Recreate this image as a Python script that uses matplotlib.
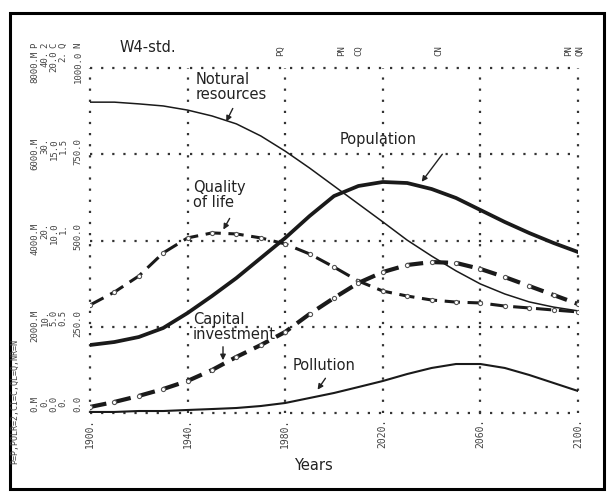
import numpy as np
import matplotlib
matplotlib.use("Agg")
import matplotlib.pyplot as plt

W, H = 613, 493

# --- data (each series in its own scale units) ---
years = [1900, 1910, 1920, 1930, 1940, 1950, 1960, 1970, 1980, 1990, 2000,
         2010, 2020, 2030, 2040, 2050, 2060, 2070, 2080, 2090, 2100]

population = [1577, 1646, 1762, 1971, 2319, 2713, 3130, 3594, 4058, 4568, 5031,
              5264, 5357, 5333, 5194, 4986, 4707, 4429, 4174, 3942, 3733]          # P, 0..8000 M
natural_resources = [901, 901, 896, 890, 878, 861, 838, 803, 759, 710, 658,
                     606, 554, 501, 455, 412, 374, 345, 322, 307, 296]            # N, 0..1000
quality_of_life = [0.626, 0.701, 0.794, 0.928, 1.015, 1.044, 1.038, 1.015, 0.980, 0.922, 0.846,
                   0.765, 0.707, 0.678, 0.655, 0.643, 0.638, 0.620, 0.609, 0.597, 0.586]  # Q, 0..2
capital_investment = [0.35, 0.64, 0.99, 1.39, 1.86, 2.49, 3.25, 3.94, 4.70, 5.74, 6.67,
                      7.54, 8.17, 8.58, 8.75, 8.70, 8.35, 7.88, 7.36, 6.84, 6.32]  # C, 0..20
pollution = [0.12, 0.12, 0.23, 0.23, 0.35, 0.46, 0.58, 0.81, 1.16, 1.74, 2.32,
             3.01, 3.71, 4.52, 5.22, 5.68, 5.68, 5.22, 4.41, 3.48, 2.55]          # POLR, 0..40

# scale columns printed on the left
scale_letters = ["P", "2", "C", "Q", "N"]
scale_labels = [
    ["0.M", "2000.M", "4000.M", "6000.M", "8000.M"],
    ["0.", "10.", "20.", "30.", "40."],
    ["0.0", "5.0", "10.0", "15.0", "20.0"],
    ["0.", "0.5", "1.", "1.5", "2."],
    ["0.0", "250.0", "500.0", "750.0", "1000.0"],
]
scale_max = {"P": 8000, "2": 40, "C": 20, "Q": 2, "N": 1000}

year_ticks = [1900, 1940, 1980, 2020, 2060, 2100]
crossings = [("PQ", 1978), ("PN", 2003), ("CQ", 2010), ("CN", 2043), ("PN", 2096), ("QN", 2101)]

# --- figure in pixel units ---
fig = plt.figure(figsize=(W / 100, H / 100), dpi=100)
x0, x1, y0, y1 = 90, 578, 413, 68
ax = fig.add_axes([x0 / W, 1 - y0 / H, (x1 - x0) / W, (y0 - y1) / H])
ax.set_xlim(1900, 2100)
ax.set_ylim(0, 1)
ax.axis("off")


def px(x, y):
    return x / W, 1 - y / H


ink = "#1a1a1a"
grid_kw = dict(color="#333333", lw=1.6, linestyle=(0, (1.0, 4.0)), zorder=1, clip_on=False)
for yr in year_ticks:
    ax.plot([yr, yr], [0, 1], **grid_kw)
for f in [0, 0.25, 0.5, 0.75, 1.0]:
    ax.plot([1900, 2100], [f, f], **grid_kw)

yrs = np.array(years)
ax.plot(yrs, np.array(natural_resources) / scale_max["N"], color=ink, lw=1.1, zorder=3)
ax.plot(yrs, np.array(population) / scale_max["P"], color=ink, lw=2.7, zorder=4)
ax.plot(yrs, np.array(pollution) / scale_max["2"], color=ink, lw=1.5, zorder=3)
ax.plot(yrs, np.array(quality_of_life) / scale_max["Q"], color=ink, lw=2.2,
        linestyle=(0, (5, 2.5)), marker="o", ms=3, mfc="white", mec="#555555", mew=0.8, zorder=3)
ax.plot(yrs, np.array(capital_investment) / scale_max["C"], color=ink, lw=3.0,
        linestyle=(0, (4, 2)), marker="o", ms=3, mfc="white", mec="#555555", mew=0.8, zorder=3)

# curve names with arrows
lab_kw = dict(fontsize=10.5, color="#222222", family="DejaVu Sans")
fig.text(*px(196, 72), "Notural\nresources", va="top", ha="left", linespacing=1.0, **lab_kw)
fig.text(*px(340, 140), "Population", va="center", ha="left", **lab_kw)
fig.text(*px(193, 180), "Quality\nof life", va="top", ha="left", linespacing=1.0, **lab_kw)
fig.text(*px(193, 312), "Capital\ninvestment", va="top", ha="left", linespacing=1.0, **lab_kw)
fig.text(*px(293, 366), "Pollution", va="center", ha="left", **lab_kw)

arrow_kw = dict(arrowstyle="-|>", color="#222222", lw=1.0, mutation_scale=8)
for (xa, ya), (xb, yb) in [((234, 106), (225, 124)), ((444, 152), (420, 184)),
                           ((231, 216), (222, 232)), ((223, 344), (223, 363)),
                           ((327, 376), (316, 392))]:
    fig.add_artist(matplotlib.patches.FancyArrowPatch(px(xa, ya), px(xb, yb),
                   transform=fig.transFigure, **arrow_kw))

# title and axis name
fig.text(*px(120, 47), "W4-std.", fontsize=10.5, color="#222222", va="center", ha="left")
fig.text(*px(313, 465), "Years", fontsize=10.5, color="#222222", va="center", ha="center")

# printer-style scale labels on the left (right-justified: text ends above each gridline)
small = dict(family="DejaVu Sans Mono", color="#444444", rotation=90)
col_x = [35, 45, 54, 63, 78]
grid_y = [413, 327, 240, 155, 68]
for cx, letter, labels in zip(col_x, scale_letters, scale_labels):
    for gy, s in zip(grid_y, labels):
        fig.text(*px(cx, gy - 17), s, ha="center", va="top", fontsize=6.5, **small)
    fig.text(*px(cx, 48), letter, ha="center", va="bottom", fontsize=6.5, **small)

# year labels
for yr in year_ticks:
    xp = x0 + (yr - 1900) / 200 * (x1 - x0)
    fig.text(*px(xp, 419), f"{yr}.", ha="center", va="top", fontsize=7, **small)

# crossing marks along the top
for s, yr in crossings:
    xp = x0 + (yr - 1900) / 200 * (x1 - x0)
    fig.text(*px(xp, 56), s, ha="center", va="bottom", fontsize=6.5, **small)

fig.text(*px(15, 402), "P=P,POLR=2,CI=C,QL=Q,NR=N", ha="center", va="center", fontsize=6, **small)

# outer frame
fig.add_artist(matplotlib.patches.Rectangle(px(10, 489), 594 / W, 476 / H, fill=False,
               lw=2.2, edgecolor="black", transform=fig.transFigure))

fig.savefig("out.png", dpi=100)
